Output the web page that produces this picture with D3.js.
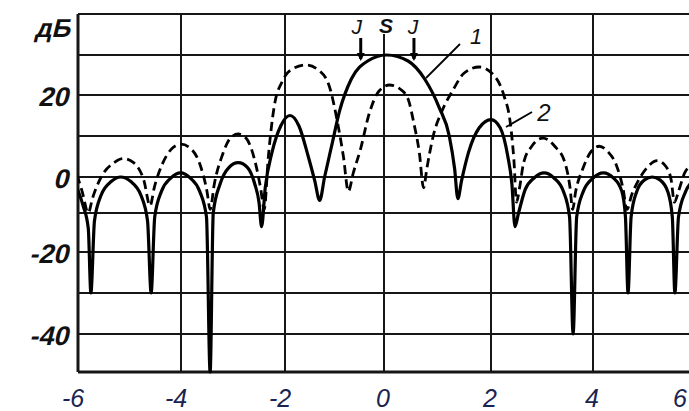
<!DOCTYPE html>
<html><head><meta charset="utf-8">
<script src="https://cdn.jsdelivr.net/npm/d3@7"></script>
<style>html,body{margin:0;padding:0;background:#fff;overflow:hidden}</style>
</head><body>
<svg id="c" width="689" height="411"></svg>
<script>
// ---- data ----
const xGridValues = [-6, -4, -2, 0, 2, 4, 6];
const xTickLabels = ["-6", "-4", "-2", "0", "2", "4", "6"];
const yGridValues = [40, 30, 20, 10, 0, -10, -20, -30, -40, -50];
const yTickValues = [40, 20, 0, -20, -40];
const yTickLabels = ["дБ", "20", "0", "-20", "-40"];

// curve 1 (solid) : [u, dB]
const curve1 = [
  [-6.02,-3],[-5.9,-8],[-5.8,-14],[-5.75,-30],
  [-5.68,-12],[-5.55,-5],[-5.35,-1.2],[-5.17,0],[-4.98,-1.2],[-4.78,-5],[-4.65,-12],[-4.58,-30],
  [-4.51,-11],[-4.38,-4],[-4.2,-0.3],[-4.01,1],[-3.82,-0.3],[-3.64,-4],[-3.51,-11],[-3.44,-50],
  [-3.38,-10],[-3.25,-2],[-3.08,2.3],[-2.9,3.5],[-2.72,2.3],[-2.58,-2],[-2.5,-7],[-2.45,-13.5],
  [-2.38,-3],[-2.25,6],[-2.08,12.5],[-1.9,15],[-1.72,12.5],[-1.53,5],[-1.4,-1],[-1.3,-6.5],
  [-1.2,0],[-1.05,8],[-0.9,16],[-0.66,24],[-0.33,28.5],[0.05,30],[0.45,28.5],[0.76,24],[1.03,17],[1.22,10],[1.32,2],[1.38,-6],
  [1.45,-1],[1.58,6],[1.78,12],[2.0,14],[2.18,12],[2.33,5],[2.41,-2],[2.47,-13.5],
  [2.54,-10],[2.67,-3.5],[2.85,-0.2],[3.04,1],[3.23,-0.2],[3.42,-4],[3.54,-11],[3.61,-40],
  [3.68,-11],[3.81,-4],[4.0,-0.3],[4.2,1],[4.4,-0.3],[4.56,-4],[4.63,-11],[4.68,-30],
  [4.74,-11],[4.85,-4],[5.0,-0.8],[5.15,0],[5.3,-0.8],[5.45,-4],[5.54,-11],[5.59,-30],
  [5.66,-11],[5.8,-4],[5.95,-1],[6.1,0]
];

// curve 2 (dashed) : [u, dB]
const curve2 = [
  [-6.02,0.5],[-5.92,-4],[-5.8,-10],
  [-5.72,-6],[-5.55,0],[-5.3,3.5],[-5.12,4.5],[-4.92,3.5],[-4.72,-1],[-4.6,-8],
  [-4.52,-3],[-4.35,3.5],[-4.17,7],[-4.0,8],[-3.82,7],[-3.62,2.5],[-3.5,-4],[-3.44,-9],
  [-3.36,-2],[-3.2,5.5],[-3.05,9.5],[-2.9,10.5],[-2.75,9.5],[-2.58,4],[-2.47,-3],[-2.4,-9],
  [-2.32,5],[-2.21,17],[-2.05,23.5],[-1.85,26.5],[-1.57,27.5],[-1.3,26],[-1.1,22],[-0.95,14],[-0.82,5],[-0.72,-4],
  [-0.62,1],[-0.47,7],[-0.31,15],[-0.1,21],[0.1,22.5],[0.3,21.5],[0.45,19],[0.56,13],[0.66,6],[0.74,-3],
  [0.8,2],[0.92,10],[1.08,16],[1.28,21],[1.5,25.5],[1.78,27],[2.05,25],[2.25,20],[2.38,13],[2.45,4],[2.5,-7],
  [2.56,-3],[2.64,3.5],[2.8,7.5],[3.02,9.5],[3.25,7.5],[3.45,3.5],[3.55,-3],[3.6,-9],
  [3.66,-4],[3.8,2],[3.95,6],[4.12,7.5],[4.3,6],[4.45,3],[4.58,-3],[4.66,-9],
  [4.75,-5],[4.88,-1],[5.03,2],[5.25,4],[5.42,2.5],[5.52,-1],[5.58,-7],
  [5.66,-4],[5.78,1],[5.92,3],[6.1,4]
];

// ---- drawing ----
const svg = d3.select("#c");
const x = d3.scaleLinear().domain(xGridValues).range([78, 181, 285, 384, 491, 593, 696]);
const y = d3.scaleLinear().domain(yGridValues).range([14, 55, 95, 136, 177, 213, 252, 293, 334, 372]);

svg.append("defs").append("clipPath").attr("id", "clip")
  .append("rect").attr("x", x(-6)).attr("y", y(40) - 2)
  .attr("width", x(6) - x(-6)).attr("height", y(-50) - y(40) + 4);

const grid = svg.append("g").attr("stroke", "#161616").attr("fill", "none");
grid.selectAll("line.h").data(yGridValues).join("line")
  .attr("x1", x(-6)).attr("x2", x(6))
  .attr("y1", d => y(d)).attr("y2", d => y(d))
  .attr("stroke-width", d => d === -50 ? 3 : 2);
grid.selectAll("line.v").data(xGridValues).join("line")
  .attr("x1", d => x(d)).attr("x2", d => x(d))
  .attr("y1", d => d === 0 ? y(40) + 20 : y(40)).attr("y2", y(-50))
  .attr("stroke-width", d => d === -6 ? 3 : 2);

const line = d3.line().x(d => x(d[0])).y(d => y(d[1])).curve(d3.curveMonotoneX);
const plot = svg.append("g").attr("clip-path", "url(#clip)");
plot.append("path").datum(curve2).attr("d", line)
  .attr("fill", "none").attr("stroke", "#000").attr("stroke-width", 2.8)
  .attr("stroke-dasharray", "9,5");
plot.append("path").datum(curve1).attr("d", line)
  .attr("fill", "none").attr("stroke", "#000").attr("stroke-width", 3.2);

// y labels (slanted with a skew so Cyrillic keeps its upright letter shapes)
svg.append("g").selectAll("text").data(yTickValues).join("text")
  .attr("transform", (d, i) => `translate(${i === 0 ? 70 : 68},${y(d) + (i === 0 ? 23 : 11)}) skewX(-14)`)
  .attr("text-anchor", "end")
  .attr("font-family", "Liberation Sans, Arial, sans-serif")
  .attr("font-weight", "bold")
  .attr("font-size", (d, i) => i === 0 ? 26 : 27).attr("fill", "#111")
  .text((d, i) => yTickLabels[i]);

// x labels
svg.append("g").selectAll("text").data(xGridValues).join("text")
  .attr("x", (d, i) => i === xGridValues.length - 1 ? 680 : x(d) - (xTickLabels[i].startsWith("-") ? 5 : 1))
  .attr("y", 407)
  .attr("text-anchor", "middle")
  .attr("font-family", "Liberation Sans, Arial, sans-serif")
  .attr("font-style", "italic")
  .attr("font-size", 25).attr("fill", "#1b2450")
  .text((d, i) => xTickLabels[i]);

// annotations at top
const ann = svg.append("g").attr("font-family", "Liberation Sans, Arial, sans-serif")
  .attr("font-style", "italic").attr("fill", "#111");
ann.append("text").attr("x", x(0) + 2).attr("y", y(40) + 19).attr("text-anchor", "middle")
  .attr("font-size", 21).attr("font-weight", "bold").text("S");
ann.append("text").attr("x", x(-0.47) - 4).attr("y", y(40) + 20).attr("text-anchor", "middle")
  .attr("font-size", 21).text("J");
ann.append("text").attr("x", x(0.56) - 1).attr("y", y(40) + 20).attr("text-anchor", "middle")
  .attr("font-size", 21).text("J");
[-0.47, 0.56].forEach(u => {
  svg.append("line").attr("x1", x(u)).attr("x2", x(u)).attr("y1", y(40) + 24).attr("y2", y(30) + 4)
    .attr("stroke", "#000").attr("stroke-width", 3);
  svg.append("path").attr("d", `M${x(u)-4},${y(30)-2} L${x(u)},${y(30)+6} L${x(u)+4},${y(30)-2}Z`).attr("fill", "#000");
});
// curve labels
ann.append("text").attr("x", 476).attr("y", 44).attr("text-anchor", "middle").attr("font-size", 22).text("1");
svg.append("line").attr("x1", 460).attr("y1", 44).attr("x2", 426).attr("y2", 78).attr("stroke", "#000").attr("stroke-width", 1.8);
ann.append("text").attr("x", 544).attr("y", 121).attr("text-anchor", "middle").attr("font-size", 24).text("2");
svg.append("line").attr("x1", 532).attr("y1", 112).attr("x2", 506).attr("y2", 127).attr("stroke", "#000").attr("stroke-width", 1.8);
</script>
</body></html>
